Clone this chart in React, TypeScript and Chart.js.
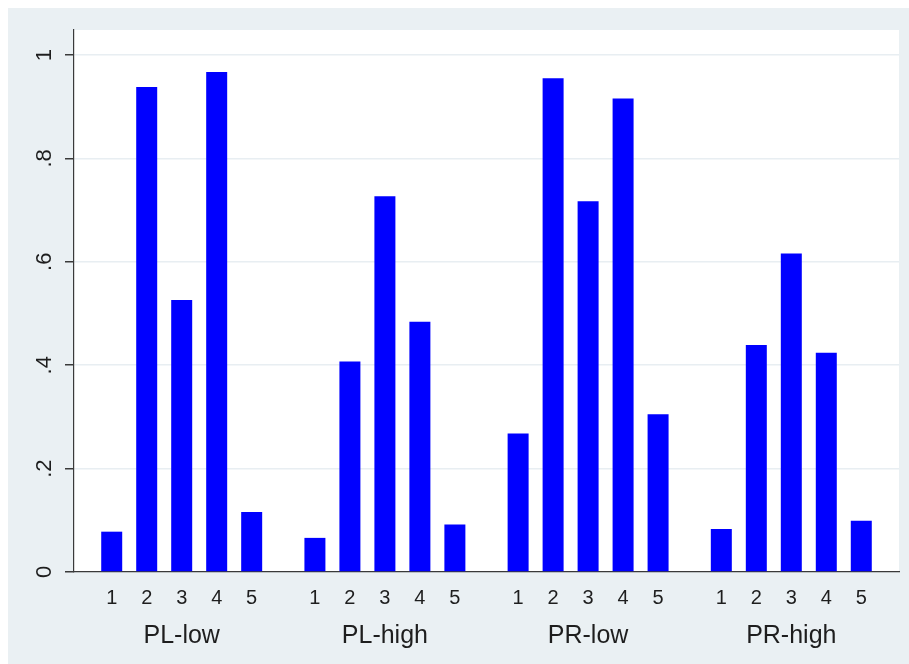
import { useEffect, useRef } from 'react';
import { Chart, registerables } from 'chart.js';

Chart.register(...registerables);

const groupLabels = ['PL-low', 'PL-high', 'PR-low', 'PR-high'];
const subLabels = ['1', '2', '3', '4', '5'];
const plLow = [0.078, 0.938, 0.526, 0.967, 0.116];
const plHigh = [0.066, 0.407, 0.727, 0.484, 0.092];
const prLow = [0.268, 0.955, 0.717, 0.916, 0.305];
const prHigh = [0.083, 0.439, 0.616, 0.424, 0.099];
const yTickValues = [0, 0.2, 0.4, 0.6, 0.8, 1];
const yTickLabels = ['0', '.2', '.4', '.6', '.8', '1'];

const groupValues = [plLow, plHigh, prLow, prHigh];

const FONT = '"Liberation Sans", Arial, sans-serif';
const TEXT = '#1e1e1e';
const AXIS = '#3a3a3a';
const OUTER_BG = 'rgb(234,240,243)';
const GRID = 'rgb(232,238,242)';

export default function App() {
  const ref = useRef<HTMLCanvasElement | null>(null);

  useEffect(() => {
    const canvas = ref.current;
    if (!canvas) return;

    const bgPlugin = {
      id: 'bgPlugin',
      beforeDraw(chart: any) {
        const { ctx, chartArea, width, height } = chart;
        ctx.save();
        ctx.fillStyle = OUTER_BG;
        ctx.fillRect(0, 0, width, height);
        ctx.fillStyle = '#ffffff';
        ctx.fillRect(chartArea.left, chartArea.top, chartArea.right - chartArea.left, chartArea.bottom - chartArea.top);
        ctx.restore();
      },
    };

    const labelPlugin = {
      id: 'labelPlugin',
      afterDraw(chart: any) {
        const { ctx } = chart;
        const yScale = chart.scales.y;
        const xScale = chart.scales.x;
        ctx.save();
        ctx.fillStyle = TEXT;
        // y tick labels, rotated
        ctx.font = `22px ${FONT}`;
        ctx.textAlign = 'center';
        ctx.textBaseline = 'middle';
        yTickValues.forEach((v, i) => {
          const y = yScale.getPixelForValue(v);
          ctx.save();
          ctx.translate(37, y);
          ctx.rotate(-Math.PI / 2);
          ctx.fillText(yTickLabels[i], 0, 0);
          ctx.restore();
        });
        // sub labels under each bar
        ctx.font = `20px ${FONT}`;
        ctx.textBaseline = 'alphabetic';
        subLabels.forEach((lab, k) => {
          const meta = chart.getDatasetMeta(k);
          meta.data.forEach((el: any) => {
            ctx.fillText(lab, el.x, 596);
          });
        });
        // group labels
        ctx.font = `25px ${FONT}`;
        groupLabels.forEach((g, i) => {
          ctx.fillText(g, xScale.getPixelForValue(i), 635);
        });
        ctx.restore();
      },
    };

    const datasets = subLabels.map((lab, k) => ({
      label: lab,
      data: groupValues.map((g, i) => ({ x: i, y: g[k] })),
      backgroundColor: '#0000ff',
      borderWidth: 0,
      categoryPercentage: 0.861,
      barPercentage: 0.6,
    }));

    const chart = new Chart(canvas, {
      type: 'bar',
      data: { datasets },
      options: {
        animation: false,
        responsive: false,
        devicePixelRatio: 1,
        layout: { padding: { left: 8, right: 10, top: 22, bottom: 0 } },
        plugins: { legend: { display: false }, tooltip: { enabled: false } },
        scales: {
          x: {
            type: 'linear',
            min: -0.53,
            max: 3.53,
            offset: false,
            grid: { display: true, color: 'rgba(0,0,0,0)', drawTicks: false, offset: false },
            border: { display: true, color: AXIS, width: 1.2 },
            ticks: { display: false },
            afterBuildTicks(s: any) { s.ticks = groupLabels.map((_, i) => ({ value: i })); },
            afterFit(s: any) { s.height = 92; },
          },
          y: {
            min: 0,
            max: 1.0484,
            grid: { color: GRID, lineWidth: 1.5, tickColor: AXIS, tickLength: 9, drawTicks: true },
            border: { display: true, color: AXIS, width: 1.2 },
            ticks: { display: false },
            afterBuildTicks(s: any) { s.ticks = yTickValues.map((v) => ({ value: v })); },
            afterFit(s: any) { s.width = 58; },
          },
        },
      },
      plugins: [bgPlugin, labelPlugin],
    } as any);

    return () => chart.destroy();
  }, []);

  return (
    <div style={{ position: 'fixed', left: 8, top: 8, width: 901, height: 656 }}>
      <canvas ref={ref} width={901} height={656} style={{ display: 'block', width: 901, height: 656 }} />
    </div>
  );
}
